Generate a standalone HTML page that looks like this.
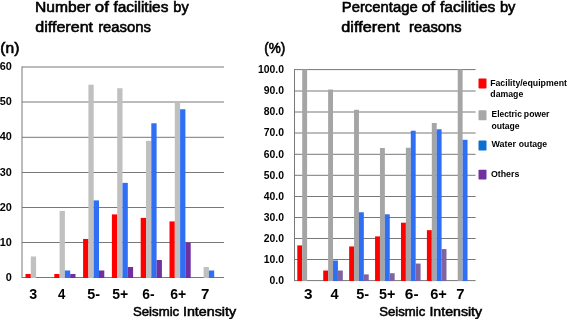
<!DOCTYPE html>
<html><head><meta charset="utf-8"><style>
html,body{margin:0;padding:0;background:#fff;overflow:hidden}
svg{display:block}
text{font-family:"Liberation Sans", sans-serif;fill:#000}
svg{will-change:transform}
</style></head><body>
<svg width="567" height="319" viewBox="0 0 567 319">
<rect width="567" height="319" fill="#fff"/>
<line x1="22.0" y1="277.50" x2="224.0" y2="277.50" stroke="#787878" stroke-width="1"/>
<line x1="22.0" y1="242.50" x2="224.0" y2="242.50" stroke="#787878" stroke-width="1"/>
<line x1="22.0" y1="207.50" x2="224.0" y2="207.50" stroke="#787878" stroke-width="1"/>
<line x1="22.0" y1="172.50" x2="224.0" y2="172.50" stroke="#787878" stroke-width="1"/>
<line x1="22.0" y1="137.30" x2="224.0" y2="137.30" stroke="#787878" stroke-width="1"/>
<line x1="22.0" y1="102.00" x2="224.0" y2="102.00" stroke="#787878" stroke-width="1"/>
<line x1="22.0" y1="67.00" x2="224.0" y2="67.00" stroke="#787878" stroke-width="1"/>
<line x1="22.0" y1="66.50" x2="22.0" y2="278.00" stroke="#787878" stroke-width="1"/>
<rect x="25.50" y="274.00" width="5.30" height="4.00" fill="#ff0000"/>
<rect x="30.80" y="256.47" width="5.30" height="21.53" fill="#c0c0c0"/>
<rect x="54.30" y="274.00" width="5.30" height="4.00" fill="#ff0000"/>
<rect x="59.60" y="210.91" width="5.30" height="67.09" fill="#c0c0c0"/>
<rect x="64.90" y="270.49" width="5.30" height="7.51" fill="#2f6ff3"/>
<rect x="70.20" y="274.00" width="5.30" height="4.00" fill="#7030a0"/>
<rect x="83.10" y="238.94" width="5.30" height="39.06" fill="#ff0000"/>
<rect x="88.40" y="84.72" width="5.30" height="193.28" fill="#c0c0c0"/>
<rect x="93.70" y="200.39" width="5.30" height="77.61" fill="#2f6ff3"/>
<rect x="99.00" y="270.49" width="5.30" height="7.51" fill="#7030a0"/>
<rect x="111.90" y="214.41" width="5.30" height="63.59" fill="#ff0000"/>
<rect x="117.20" y="88.23" width="5.30" height="189.77" fill="#c0c0c0"/>
<rect x="122.50" y="182.87" width="5.30" height="95.13" fill="#2f6ff3"/>
<rect x="127.80" y="266.99" width="5.30" height="11.01" fill="#7030a0"/>
<rect x="140.70" y="217.91" width="5.30" height="60.09" fill="#ff0000"/>
<rect x="146.00" y="140.81" width="5.30" height="137.19" fill="#c0c0c0"/>
<rect x="151.30" y="123.28" width="5.30" height="154.72" fill="#2f6ff3"/>
<rect x="156.60" y="259.98" width="5.30" height="18.02" fill="#7030a0"/>
<rect x="169.50" y="221.42" width="5.30" height="56.58" fill="#ff0000"/>
<rect x="174.80" y="102.25" width="5.30" height="175.75" fill="#c0c0c0"/>
<rect x="180.10" y="109.26" width="5.30" height="168.74" fill="#2f6ff3"/>
<rect x="185.40" y="242.45" width="5.30" height="35.55" fill="#7030a0"/>
<rect x="203.60" y="266.99" width="5.30" height="11.01" fill="#c0c0c0"/>
<rect x="208.90" y="270.49" width="5.30" height="7.51" fill="#2f6ff3"/>
<line x1="294.5" y1="280.60" x2="475.6" y2="280.60" stroke="#787878" stroke-width="1"/>
<line x1="294.5" y1="259.50" x2="475.6" y2="259.50" stroke="#787878" stroke-width="1"/>
<line x1="294.5" y1="238.50" x2="475.6" y2="238.50" stroke="#787878" stroke-width="1"/>
<line x1="294.5" y1="217.50" x2="475.6" y2="217.50" stroke="#787878" stroke-width="1"/>
<line x1="294.5" y1="196.50" x2="475.6" y2="196.50" stroke="#787878" stroke-width="1"/>
<line x1="294.5" y1="175.30" x2="475.6" y2="175.30" stroke="#787878" stroke-width="1"/>
<line x1="294.5" y1="154.30" x2="475.6" y2="154.30" stroke="#787878" stroke-width="1"/>
<line x1="294.5" y1="133.00" x2="475.6" y2="133.00" stroke="#787878" stroke-width="1"/>
<line x1="294.5" y1="112.00" x2="475.6" y2="112.00" stroke="#787878" stroke-width="1"/>
<line x1="294.5" y1="91.00" x2="475.6" y2="91.00" stroke="#787878" stroke-width="1"/>
<line x1="294.5" y1="69.60" x2="475.6" y2="69.60" stroke="#787878" stroke-width="1"/>
<line x1="294.5" y1="69.10" x2="294.5" y2="281.10" stroke="#787878" stroke-width="1"/>
<rect x="297.30" y="245.40" width="4.90" height="35.60" fill="#ff0000"/>
<rect x="302.20" y="69.40" width="4.90" height="211.60" fill="#a5a5a5"/>
<rect x="323.22" y="270.54" width="4.90" height="10.46" fill="#ff0000"/>
<rect x="328.12" y="89.51" width="4.90" height="191.49" fill="#a5a5a5"/>
<rect x="333.02" y="260.49" width="4.90" height="20.51" fill="#2f6ff3"/>
<rect x="337.92" y="270.54" width="4.90" height="10.46" fill="#8064a2"/>
<rect x="349.14" y="246.44" width="4.90" height="34.56" fill="#ff0000"/>
<rect x="354.04" y="109.78" width="4.90" height="171.22" fill="#a5a5a5"/>
<rect x="358.94" y="212.27" width="4.90" height="68.73" fill="#2f6ff3"/>
<rect x="363.84" y="274.39" width="4.90" height="6.61" fill="#8064a2"/>
<rect x="375.06" y="236.40" width="4.90" height="44.60" fill="#ff0000"/>
<rect x="379.96" y="147.99" width="4.90" height="133.01" fill="#a5a5a5"/>
<rect x="384.86" y="214.29" width="4.90" height="66.71" fill="#2f6ff3"/>
<rect x="389.76" y="273.23" width="4.90" height="7.77" fill="#8064a2"/>
<rect x="400.98" y="222.69" width="4.90" height="58.31" fill="#ff0000"/>
<rect x="405.88" y="147.75" width="4.90" height="133.25" fill="#a5a5a5"/>
<rect x="410.78" y="130.72" width="4.90" height="150.28" fill="#2f6ff3"/>
<rect x="415.68" y="263.57" width="4.90" height="17.43" fill="#8064a2"/>
<rect x="426.90" y="230.16" width="4.90" height="50.84" fill="#ff0000"/>
<rect x="431.80" y="122.99" width="4.90" height="158.01" fill="#a5a5a5"/>
<rect x="436.70" y="129.29" width="4.90" height="151.71" fill="#2f6ff3"/>
<rect x="441.60" y="249.08" width="4.90" height="31.92" fill="#8064a2"/>
<rect x="457.72" y="69.40" width="4.90" height="211.60" fill="#a5a5a5"/>
<rect x="462.62" y="139.80" width="4.90" height="141.20" fill="#2f6ff3"/>
<rect x="478.5" y="78.6" width="8" height="9.8" rx="0.8" fill="#ff0000"/>
<rect x="478.5" y="110.2" width="8" height="10.1" rx="0.8" fill="#a8a8a8"/>
<rect x="478.5" y="140.6" width="8" height="10.0" rx="0.8" fill="#0a6fd0"/>
<rect x="478.5" y="169.8" width="8" height="9.8" rx="0.8" fill="#7030a0"/>
<text id="a0" x="35.09" y="11.80" font-size="15.2" font-weight="400" textLength="55.49" lengthAdjust="spacingAndGlyphs" stroke="#000" stroke-width="0.6">Number</text>
<text id="a1" x="94.87" y="11.80" font-size="15.2" font-weight="400" textLength="14.07" lengthAdjust="spacingAndGlyphs" stroke="#000" stroke-width="0.6">of</text>
<text id="a2" x="113.45" y="11.80" font-size="15.2" font-weight="400" textLength="55.00" lengthAdjust="spacingAndGlyphs" stroke="#000" stroke-width="0.6">facilities</text>
<text id="a3" x="173.33" y="11.80" font-size="15.2" font-weight="400" textLength="15.39" lengthAdjust="spacingAndGlyphs" stroke="#000" stroke-width="0.6">by</text>
<text id="b0" x="35.21" y="31.50" font-size="15.2" font-weight="400" textLength="57.87" lengthAdjust="spacingAndGlyphs" stroke="#000" stroke-width="0.6">different</text>
<text id="b1" x="98.20" y="31.50" font-size="15.2" font-weight="400" textLength="52.73" lengthAdjust="spacingAndGlyphs" stroke="#000" stroke-width="0.6">reasons</text>
<text id="c0" x="341.77" y="12.40" font-size="15.2" font-weight="400" textLength="75.96" lengthAdjust="spacingAndGlyphs" stroke="#000" stroke-width="0.6">Percentage</text>
<text id="c1" x="421.51" y="12.40" font-size="15.2" font-weight="400" textLength="13.68" lengthAdjust="spacingAndGlyphs" stroke="#000" stroke-width="0.6">of</text>
<text id="c2" x="439.91" y="12.40" font-size="15.2" font-weight="400" textLength="55.51" lengthAdjust="spacingAndGlyphs" stroke="#000" stroke-width="0.6">facilities</text>
<text id="c3" x="499.93" y="12.40" font-size="15.2" font-weight="400" textLength="15.54" lengthAdjust="spacingAndGlyphs" stroke="#000" stroke-width="0.6">by</text>
<text id="d0" x="341.28" y="31.80" font-size="15.2" font-weight="400" textLength="58.52" lengthAdjust="spacingAndGlyphs" stroke="#000" stroke-width="0.6">different</text>
<text id="d1" x="409.12" y="31.80" font-size="15.2" font-weight="400" textLength="52.42" lengthAdjust="spacingAndGlyphs" stroke="#000" stroke-width="0.6">reasons</text>
<text id="pn" x="0.25" y="52.80" font-size="14.3" font-weight="400" textLength="19.09" lengthAdjust="spacingAndGlyphs" stroke="#000" stroke-width="0.6">(n)</text>
<text id="pp" x="264.18" y="52.90" font-size="14.3" font-weight="400" textLength="21.05" lengthAdjust="spacingAndGlyphs" stroke="#000" stroke-width="0.6">(%)</text>
<text id="e0" x="132.97" y="316.00" font-size="13.4" font-weight="400" textLength="46.22" lengthAdjust="spacingAndGlyphs" stroke="#000" stroke-width="0.55">Seismic</text>
<text id="e1" x="182.91" y="316.00" font-size="13.4" font-weight="400" textLength="53.24" lengthAdjust="spacingAndGlyphs" stroke="#000" stroke-width="0.55">Intensity</text>
<text id="f0" x="379.28" y="316.20" font-size="13.4" font-weight="400" textLength="46.00" lengthAdjust="spacingAndGlyphs" stroke="#000" stroke-width="0.55">Seismic</text>
<text id="f1" x="429.45" y="316.20" font-size="13.4" font-weight="400" textLength="52.69" lengthAdjust="spacingAndGlyphs" stroke="#000" stroke-width="0.55">Intensity</text>
<text id="lx0" x="29.22" y="298.80" font-size="14" font-weight="700" textLength="7.94" lengthAdjust="spacingAndGlyphs">3</text>
<text id="lx1" x="57.95" y="298.80" font-size="14" font-weight="700" textLength="7.31" lengthAdjust="spacingAndGlyphs">4</text>
<text id="lx2" x="87.30" y="298.80" font-size="14" font-weight="700" textLength="12.78" lengthAdjust="spacingAndGlyphs">5-</text>
<text id="lx3" x="112.27" y="298.80" font-size="14" font-weight="700" textLength="15.97" lengthAdjust="spacingAndGlyphs">5+</text>
<text id="lx4" x="142.30" y="298.80" font-size="14" font-weight="700" textLength="12.31" lengthAdjust="spacingAndGlyphs">6-</text>
<text id="lx5" x="170.27" y="298.80" font-size="14" font-weight="700" textLength="15.97" lengthAdjust="spacingAndGlyphs">6+</text>
<text id="lx6" x="200.91" y="298.80" font-size="14" font-weight="700" textLength="8.34" lengthAdjust="spacingAndGlyphs">7</text>
<text id="rx0" x="303.98" y="298.80" font-size="14" font-weight="700" textLength="8.54" lengthAdjust="spacingAndGlyphs">3</text>
<text id="rx1" x="330.40" y="298.80" font-size="14" font-weight="700" textLength="8.12" lengthAdjust="spacingAndGlyphs">4</text>
<text id="rx2" x="356.21" y="298.80" font-size="14" font-weight="700" textLength="12.88" lengthAdjust="spacingAndGlyphs">5-</text>
<text id="rx3" x="378.98" y="298.80" font-size="14" font-weight="700" textLength="16.34" lengthAdjust="spacingAndGlyphs">5+</text>
<text id="rx4" x="404.89" y="298.80" font-size="14" font-weight="700" textLength="13.77" lengthAdjust="spacingAndGlyphs">6-</text>
<text id="rx5" x="430.18" y="298.80" font-size="14" font-weight="700" textLength="16.69" lengthAdjust="spacingAndGlyphs">6+</text>
<text id="rx6" x="456.23" y="298.80" font-size="14" font-weight="700" textLength="8.24" lengthAdjust="spacingAndGlyphs">7</text>
<text id="g1" x="490.21" y="85.80" font-size="9" font-weight="700" textLength="32.44" lengthAdjust="spacingAndGlyphs">Facility/</text>
<text id="g1e" x="522.59" y="85.80" font-size="9" font-weight="700" textLength="44.35" lengthAdjust="spacingAndGlyphs">equipment</text>
<text id="g1b" x="490.37" y="97.00" font-size="9" font-weight="700" textLength="32.88" lengthAdjust="spacingAndGlyphs">damage</text>
<text id="g2a" x="491.57" y="117.20" font-size="9" font-weight="700" textLength="30.26" lengthAdjust="spacingAndGlyphs">Electric</text>
<text id="g2b" x="523.86" y="117.20" font-size="9" font-weight="700" textLength="25.59" lengthAdjust="spacingAndGlyphs">power</text>
<text id="g2c" x="491.45" y="128.60" font-size="9" font-weight="700" textLength="28.22" lengthAdjust="spacingAndGlyphs">outage</text>
<text id="g3a" x="491.43" y="147.30" font-size="9" font-weight="700" textLength="24.45" lengthAdjust="spacingAndGlyphs">Water</text>
<text id="g3b" x="518.85" y="147.30" font-size="9" font-weight="700" textLength="28.33" lengthAdjust="spacingAndGlyphs">outage</text>
<text id="g4" x="490.89" y="177.00" font-size="9" font-weight="700" textLength="28.45" lengthAdjust="spacingAndGlyphs">Others</text>
<text x="11.9" y="280.50" font-size="10" font-weight="700" text-anchor="end" textLength="6.06" lengthAdjust="spacingAndGlyphs">0</text>
<text x="11.9" y="245.50" font-size="10" font-weight="700" text-anchor="end" textLength="12.12" lengthAdjust="spacingAndGlyphs">10</text>
<text x="11.9" y="210.50" font-size="10" font-weight="700" text-anchor="end" textLength="12.12" lengthAdjust="spacingAndGlyphs">20</text>
<text x="11.9" y="175.50" font-size="10" font-weight="700" text-anchor="end" textLength="12.12" lengthAdjust="spacingAndGlyphs">30</text>
<text x="11.9" y="140.30" font-size="10" font-weight="700" text-anchor="end" textLength="12.12" lengthAdjust="spacingAndGlyphs">40</text>
<text x="11.9" y="105.00" font-size="10" font-weight="700" text-anchor="end" textLength="12.12" lengthAdjust="spacingAndGlyphs">50</text>
<text x="11.9" y="70.00" font-size="10" font-weight="700" text-anchor="end" textLength="12.12" lengthAdjust="spacingAndGlyphs">60</text>
<text x="284.0" y="283.80" font-size="10.4" font-weight="700" text-anchor="end">0.0</text>
<text x="284.0" y="262.70" font-size="10.4" font-weight="700" text-anchor="end">10.0</text>
<text x="284.0" y="241.70" font-size="10.4" font-weight="700" text-anchor="end">20.0</text>
<text x="284.0" y="220.70" font-size="10.4" font-weight="700" text-anchor="end">30.0</text>
<text x="284.0" y="199.70" font-size="10.4" font-weight="700" text-anchor="end">40.0</text>
<text x="284.0" y="178.50" font-size="10.4" font-weight="700" text-anchor="end">50.0</text>
<text x="284.0" y="157.50" font-size="10.4" font-weight="700" text-anchor="end">60.0</text>
<text x="284.0" y="136.20" font-size="10.4" font-weight="700" text-anchor="end">70.0</text>
<text x="284.0" y="115.20" font-size="10.4" font-weight="700" text-anchor="end">80.0</text>
<text x="284.0" y="94.20" font-size="10.4" font-weight="700" text-anchor="end">90.0</text>
<text x="284.0" y="72.80" font-size="10.4" font-weight="700" text-anchor="end">100.0</text>
</svg>
</body></html>
